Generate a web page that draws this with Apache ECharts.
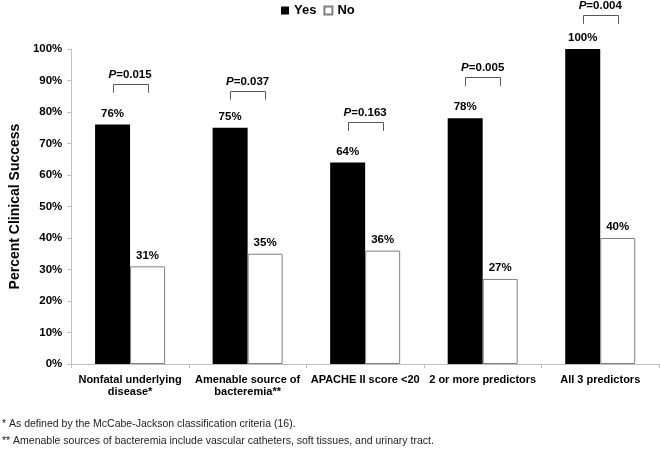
<!DOCTYPE html>
<html>
<head>
<meta charset="utf-8">
<script src="https://cdn.jsdelivr.net/npm/echarts@6/dist/echarts.min.js"></script>
<style>
html,body{margin:0;padding:0;background:#fff;}
#chart{width:660px;height:455px;}
</style>
</head>
<body>
<div id="chart"></div>
<script>
const categories = ['Nonfatal underlying\ndisease*', 'Amenable source of\nbacteremia**', 'APACHE II score <20', '2 or more predictors', 'All 3 predictors'];
const yesValues = [76, 75, 64, 78, 100];
const noValues = [31, 35, 36, 27, 40];
const pValues = ['0.015', '0.037', '0.163', '0.005', '0.004'];
const bracketLevels = [88.9, 86.7, 76.8, 91.1, 110.8];
const yTicks = [0, 10, 20, 30, 40, 50, 60, 70, 80, 90, 100];
const footnotes = [
  '* As defined by the McCabe-Jackson classification criteria (16).',
  '** Amenable sources of bacteremia include vascular catheters, soft tissues, and urinary tract.'
];

const FONT = 'Liberation Sans, Arial, sans-serif';
const BAR_W = 35;
const chart = echarts.init(document.getElementById('chart'), null, {renderer: 'canvas'});

const bracketData = bracketLevels.map((v, i) => [i, v, 2.8]);

chart.setOption({
  animation: false,
  backgroundColor: '#fff',
  textStyle: {fontFamily: FONT},
  legend: {
    data: [{name: 'Yes', icon: 'rect'}, {name: 'No', icon: 'rect'}],
    top: 4,
    left: 281,
    padding: 0,
    itemWidth: 8,
    itemHeight: 8,
    itemGap: 7,
    textStyle: {fontFamily: FONT, fontWeight: 'bold', fontSize: 13, color: '#000'}
  },
  grid: {left: 62, right: 1, top: 49, bottom: 91, containLabel: false},
  xAxis: {
    type: 'category',
    data: categories,
    axisLine: {lineStyle: {color: '#bfbfbf'}},
    axisTick: {show: true, length: 4, lineStyle: {color: '#bfbfbf'}},
    axisLabel: {
      interval: 0, margin: 10, color: '#000',
      fontFamily: FONT, fontWeight: 'bold', fontSize: 11, lineHeight: 12
    }
  },
  yAxis: {
    type: 'value',
    min: yTicks[0],
    max: yTicks[yTicks.length - 1],
    interval: 10,
    name: 'Percent Clinical Success',
    nameLocation: 'middle',
    nameGap: 49,
    nameTextStyle: {fontFamily: FONT, fontWeight: 'bold', fontSize: 14, color: '#000'},
    axisLine: {show: true, lineStyle: {color: '#bfbfbf'}},
    axisTick: {show: true, length: 4, lineStyle: {color: '#bfbfbf'}},
    splitLine: {show: false},
    axisLabel: {
      formatter: '{value}%', margin: 9, color: '#000',
      fontFamily: FONT, fontWeight: 'bold', fontSize: 11.5
    }
  },
  series: [
    {
      name: 'Yes', type: 'bar', data: yesValues, barWidth: BAR_W, barGap: '0%',
      itemStyle: {color: '#000'},
      label: {show: true, position: 'top', distance: 5, formatter: '{c}%',
        fontFamily: FONT, fontWeight: 'bold', fontSize: 11.5, color: '#000'}
    },
    {
      name: 'No', type: 'bar', data: noValues, barWidth: BAR_W, barGap: '0%',
      itemStyle: {color: '#fff', borderColor: '#7f7f7f', borderWidth: 1},
      label: {show: true, position: 'top', distance: 5, formatter: '{c}%',
        fontFamily: FONT, fontWeight: 'bold', fontSize: 11.5, color: '#000'}
    },
    {
      name: 'P', type: 'custom', clip: false, z: 5,
      data: bracketData,
      renderItem: function (params, api) {
        const i = api.value(0);
        const top = api.coord([i, api.value(1)]);
        const bottom = api.coord([i, api.value(1) - api.value(2)]);
        const xl = Math.round(top[0] - BAR_W / 2) + 0.5;
        const xr = Math.round(top[0] + BAR_W / 2) + 0.5;
        const yt = Math.round(top[1]) + 0.5;
        const yb = bottom[1];
        return {
          type: 'group',
          children: [
            {type: 'polyline', shape: {points: [[xl, yb], [xl, yt], [xr, yt], [xr, yb]]},
              style: {stroke: '#595959', lineWidth: 1, fill: null}},
            {type: 'text', x: top[0], y: yt - 4,
              style: {text: '{i|P}=' + pValues[i], align: 'center', verticalAlign: 'bottom',
                font: 'bold 11.5px ' + FONT, fill: '#000',
                rich: {i: {fontStyle: 'italic', fontWeight: 'bold', fontSize: 11.5, fontFamily: FONT, fill: '#000'}}}}
          ]
        };
      }
    }
  ],
  graphic: footnotes.map((t, k) => ({
    type: 'text', left: 2, top: 419 + k * 17,
    style: {text: t, font: '10.5px ' + FONT, fill: '#222'}
  }))
});
</script>
</body>
</html>
